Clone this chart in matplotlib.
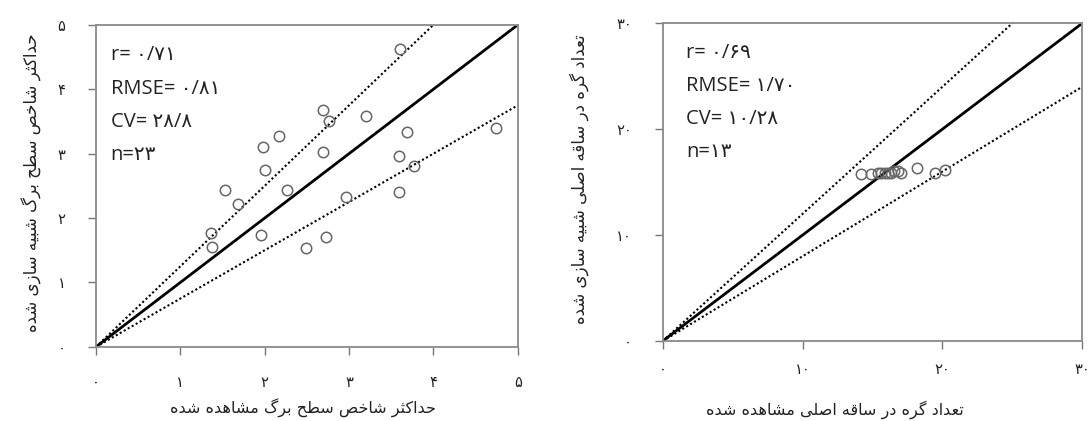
import matplotlib
matplotlib.use("Agg")
import matplotlib.pyplot as plt

# Persian letters -> presentation forms (isolated, final, initial, medial)
FORMS = {
    'ا': ('\uFE8D', '\uFE8E', None, None),
    'ب': ('\uFE8F', '\uFE90', '\uFE91', '\uFE92'),
    'ت': ('\uFE95', '\uFE96', '\uFE97', '\uFE98'),
    'ث': ('\uFE99', '\uFE9A', '\uFE9B', '\uFE9C'),
    'ح': ('\uFEA1', '\uFEA2', '\uFEA3', '\uFEA4'),
    'خ': ('\uFEA5', '\uFEA6', '\uFEA7', '\uFEA8'),
    'د': ('\uFEA9', '\uFEAA', None, None),
    'ر': ('\uFEAD', '\uFEAE', None, None),
    'ز': ('\uFEAF', '\uFEB0', None, None),
    'س': ('\uFEB1', '\uFEB2', '\uFEB3', '\uFEB4'),
    'ش': ('\uFEB5', '\uFEB6', '\uFEB7', '\uFEB8'),
    'ص': ('\uFEB9', '\uFEBA', '\uFEBB', '\uFEBC'),
    'ط': ('\uFEC1', '\uFEC2', '\uFEC3', '\uFEC4'),
    'ع': ('\uFEC9', '\uFECA', '\uFECB', '\uFECC'),
    'ق': ('\uFED5', '\uFED6', '\uFED7', '\uFED8'),
    'ل': ('\uFEDD', '\uFEDE', '\uFEDF', '\uFEE0'),
    'م': ('\uFEE1', '\uFEE2', '\uFEE3', '\uFEE4'),
    'ه': ('\uFEE9', '\uFEEA', '\uFEEB', '\uFEEC'),
    'ک': ('\uFB8E', '\uFB8F', '\uFB90', '\uFB91'),
    'گ': ('\uFB92', '\uFB93', '\uFB94', '\uFB95'),
    'ی': ('\uFBFC', '\uFBFD', '\uFBFE', '\uFBFF'),
}


def fa(text):
    out = []
    for i, ch in enumerate(text):
        if ch not in FORMS:
            out.append(ch)
            continue
        prev = text[i - 1] if i > 0 else ''
        nxt = text[i + 1] if i + 1 < len(text) else ''
        joins_prev = prev in FORMS and FORMS[prev][2] is not None
        joins_next = FORMS[ch][2] is not None and nxt in FORMS
        iso, fin, ini, med = FORMS[ch]
        if joins_prev and joins_next:
            out.append(med)
        elif joins_prev:
            out.append(fin)
        elif joins_next:
            out.append(ini)
        else:
            out.append(iso)
    return ''.join(out)[::-1]


# left panel: max leaf area index
lai_obs = [2.69, 2.76, 3.20, 2.17, 1.98, 2.69, 3.69, 4.74, 3.59, 3.77, 2.00,
           1.53, 2.27, 1.69, 2.96, 3.59, 1.36, 1.38, 1.96, 2.49, 2.73, 3.60]
lai_sim = [3.68, 3.51, 3.58, 3.27, 3.10, 3.03, 3.33, 3.40, 2.97, 2.81, 2.75,
           2.43, 2.43, 2.22, 2.33, 2.41, 1.77, 1.55, 1.73, 1.54, 1.70, 4.63]
lai_ticks = [0, 1, 2, 3, 4, 5]
lai_stats = ['r= ۰/۷۱', 'RMSE= ۰/۸۱', 'CV= ۲۸/۸', 'n=۲۳']
lai_xlabel = 'حداکثر شاخص سطح برگ مشاهده شده'
lai_ylabel = 'حداکثر شاخص سطح برگ شبیه سازی شده'

# right panel: number of nodes on main stem
node_obs = [14.2, 14.9, 15.4, 15.6, 15.9, 16.1, 16.3, 16.5, 16.8, 17.0, 18.2, 19.5, 20.2]
node_sim = [15.8, 15.8, 15.9, 15.9, 15.9, 15.9, 15.9, 16.0, 16.0, 15.9, 16.3, 15.9, 16.1]
node_ticks = [0, 10, 20, 30]
node_stats = ['r= ۰/۶۹', 'RMSE= ۱/۷۰', 'CV= ۱۰/۲۸', 'n=۱۳']
node_xlabel = 'تعداد گره در ساقه اصلی مشاهده شده'
node_ylabel = 'تعداد گره در ساقه اصلی شبیه سازی شده'

FA_DIGITS = str.maketrans('0123456789', '۰۱۲۳۴۵۶۷۸۹')


def panel(ax, obs, sim, ticks, band, stats, xlabel, ylabel, stat_x, ylab_x, xlab_pos, xpad):
    top = ticks[-1]
    ax.plot([0, top], [0, top], color='black', lw=2)
    ax.plot([0, top], [0, top * (1 + band)], color='black', lw=1.5, ls=(0, (1, 1.2)))
    ax.plot([0, top], [0, top * (1 - band)], color='black', lw=1.5, ls=(0, (1, 1.2)))
    ax.plot(obs, sim, 'o', mfc='none', mec='#666666', mew=1.1, ms=7.5)
    ax.set_xlim(0, top)
    ax.set_ylim(0, top)
    ax.set_xticks(ticks)
    ax.set_yticks(ticks)
    labels = [str(t).translate(FA_DIGITS) for t in ticks]
    ax.set_xticklabels(labels, family='DejaVu Sans', fontsize=10.5)
    ax.set_yticklabels(labels, family='DejaVu Sans', fontsize=10.5)
    ax.tick_params(direction='out', length=6, width=1, color='#777777', labelcolor='#222222')
    ax.tick_params(axis='x', pad=xpad)
    ax.tick_params(axis='y', pad=16)
    for s in ax.spines.values():
        s.set_color('#8a8a8a')
        s.set_linewidth(1.3)
    for i, s in enumerate(stats):
        ax.text(stat_x, 0.905 - i * 0.103, s, transform=ax.transAxes, ha='left', va='center',
                fontsize=14.5, color='#222222', family=['Open Sans', 'DejaVu Sans'])
    ax.set_xlabel(fa(xlabel), family='DejaVu Sans', fontsize=11.5, color='#222222', va='center')
    ax.set_ylabel(fa(ylabel), family='DejaVu Sans', fontsize=12, color='#222222', va='center')
    ax.xaxis.set_label_coords(xlab_pos[0], xlab_pos[1])
    ax.yaxis.set_label_coords(ylab_x, 0.51)


fig = plt.figure(figsize=(10.9, 4.21), dpi=100)
ax1 = fig.add_axes([0.088, 0.176, 0.387, 0.765])
ax2 = fig.add_axes([0.608, 0.19, 0.385, 0.755])

panel(ax1, lai_obs, lai_sim, lai_ticks, 0.25, lai_stats, lai_xlabel, lai_ylabel,
      0.035, -0.152, (0.49, -0.19), 14)
panel(ax2, node_obs, node_sim, node_ticks, 0.2, node_stats, node_xlabel, node_ylabel,
      0.055, -0.2, (0.41, -0.215), 9)

fig.savefig('out.png', dpi=100)
